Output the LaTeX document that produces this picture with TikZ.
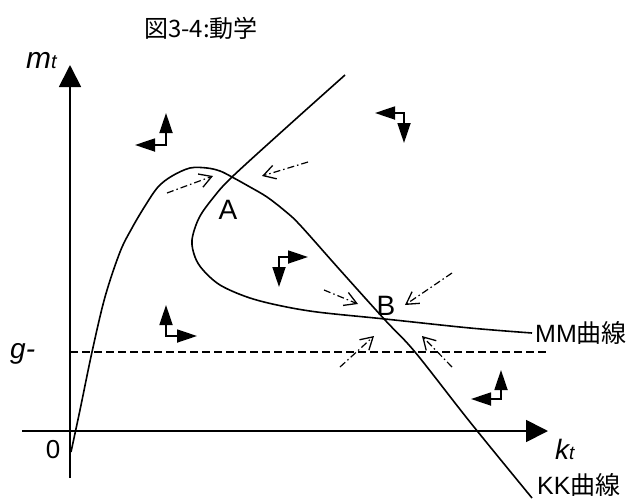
\documentclass[tikz,border=0pt]{standalone}
\usepackage{fontspec}
\setmainfont{Liberation Sans}
\newfontfamily\cjk{Noto Sans CJK JP}
\usetikzlibrary{arrows.meta}
\begin{document}
\begin{tikzpicture}[x=1pt,y=-1pt,
  curve/.style={line width=1.6pt, line join=round},
  axisline/.style={line width=1.8pt, -{Triangle[length=22pt,width=22pt]}},
  lflow/.style={line width=1.8pt, line join=miter, {Triangle[length=20pt,width=13pt]}-{Triangle[length=20pt,width=13pt]}},
  dflow/.style={line width=1.2pt, dash pattern=on 7pt off 3pt on 1.5pt off 3pt, -{Straight Barb[length=12pt,width=14pt,line width=1.3pt]}},
  lbl/.style={inner sep=0pt, font=\fontsize{26}{26}\selectfont},
  clbl/.style={inner sep=0pt, anchor=base west, font=\fontsize{25}{25}\selectfont}]
\useasboundingbox (0,0) rectangle (629,501);

% title
\node[inner sep=0pt, font=\fontsize{24}{24}\selectfont\cjk] (title) at (201,28) {図3-4:動学};

% axes
\coordinate (vbot) at (70,478);
\coordinate (vtop) at (70,65);
\coordinate (hleft) at (22,431);
\coordinate (hright) at (548,431);
\draw[axisline] (vbot) -- (vtop);
\draw[axisline] (hleft) -- (hright);
\node[lbl, anchor=base west, font=\fontsize{30}{30}\selectfont] (mt) at (26,68) {\itshape m\fontsize{20}{20}\selectfont t};
\node[lbl, anchor=base west, font=\fontsize{28}{28}\selectfont] (kt) at (555,459) {\itshape k\fontsize{19}{19}\selectfont t};
\node[lbl, anchor=base] (zero) at (53,458) {0};
\node[lbl, anchor=base west, font=\fontsize{28}{28}\selectfont] (g) at (10,358) {\itshape g-};

% g- dashed line
\coordinate (gl) at (70,352);
\coordinate (gr) at (548,352);
\draw[line width=1.6pt, dash pattern=on 8pt off 4pt] (gl) -- (gr);

% KK curve
\draw[curve] plot[smooth, tension=0.55] coordinates {
 (71,452) (80,410) (92,352) (105,297) (120,252) (132,228) (145,206) (158,187)
 (172,176) (190,168) (207,168) (220,171) (232,177) (250,187) (267,197) (285,211)
 (300,225) (340,270) (385,320) (415,352) (470,422) (532,498)};
% MM curve
\draw[curve] plot[smooth, tension=0.55] coordinates {
 (345,75) (288,126) (232,177) (213,198) (199,218) (192,240) (195,257) (203,270)
 (220,285) (247,297) (277,305) (317,312) (385,319) (470,328) (532,333)};

\node[clbl] (mm) at (535,342) {MM{\cjk 曲線}};
\node[clbl] (kk) at (537,494) {KK{\cjk 曲線}};
\node[lbl, anchor=base, font=\fontsize{28}{28}\selectfont] (A) at (228,219) {A};
\node[lbl, anchor=base, font=\fontsize{28}{28}\selectfont] (B) at (386,315) {B};

% solid L-shaped arrows
\coordinate (l1a) at (166,113); \coordinate (l1c) at (166,145); \coordinate (l1b) at (135,145);
\draw[lflow] (l1a) -- (l1c) -- (l1b);
\coordinate (l2a) at (375,113); \coordinate (l2c) at (404,113); \coordinate (l2b) at (404,143);
\draw[lflow] (l2a) -- (l2c) -- (l2b);
\coordinate (l3a) at (308,257); \coordinate (l3c) at (279,257); \coordinate (l3b) at (279,287);
\draw[lflow] (l3a) -- (l3c) -- (l3b);
\coordinate (l4a) at (166,305); \coordinate (l4c) at (166,336); \coordinate (l4b) at (197,336);
\draw[lflow] (l4a) -- (l4c) -- (l4b);
\coordinate (l5a) at (501,370); \coordinate (l5c) at (501,399); \coordinate (l5b) at (471,399);
\draw[lflow] (l5a) -- (l5c) -- (l5b);

% dashed arrows
\coordinate (d1s) at (167,193); \coordinate (d1t) at (213,176);
\coordinate (d2s) at (308,162); \coordinate (d2t) at (262,176);
\coordinate (d3s) at (324,290); \coordinate (d3t) at (358,304);
\coordinate (d4s) at (452,273); \coordinate (d4t) at (405,305);
\coordinate (d5s) at (340,367); \coordinate (d5t) at (374,336);
\coordinate (d6s) at (452,367); \coordinate (d6t) at (422,336);
\draw[dflow] (d1s) -- (d1t);
\draw[dflow] (d2s) -- (d2t);
\draw[dflow] (d3s) -- (d3t);
\draw[dflow] (d4s) -- (d4t);
\draw[dflow] (d5s) -- (d5t);
\draw[dflow] (d6s) -- (d6t);
\end{tikzpicture}
\end{document}
